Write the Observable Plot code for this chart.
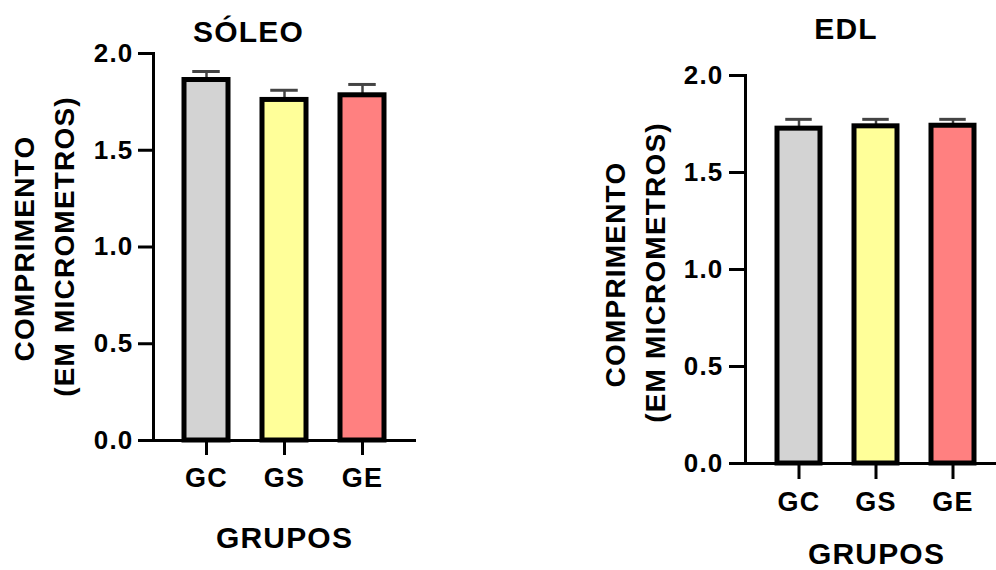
<!DOCTYPE html>
<html><head><meta charset="utf-8">
<script src="https://cdn.jsdelivr.net/npm/d3@7"></script>
<script src="https://cdn.jsdelivr.net/npm/@observablehq/plot@0.6"></script>
<style>
html,body{margin:0;padding:0;background:#fff;}
#wrap{position:relative;width:996px;height:570px;overflow:hidden;background:#fff;}
#wrap svg{position:absolute;top:0;}
svg text{letter-spacing:1.2px;}
</style></head><body><div id="wrap"></div>
<script>
const groups = ["GC", "GS", "GE"];
const barColors = ["#d3d3d3", "#ffff99", "#ff8080"];
const soleoMean = [1.863, 1.760, 1.784];
const soleoSem = [0.044, 0.050, 0.056];
const edlMean = [1.726, 1.738, 1.741];
const edlSem = [0.048, 0.036, 0.033];
const yTicks = [0, 0.5, 1.0, 1.5, 2.0];
const titles = ["SÓLEO", "EDL"];
const yLabel1 = "COMPRIMENTO";
const yLabel2 = "(EM MICROMETROS)";
const xLabel = "GRUPOS";

function chart(cfg) {
  const data = groups.map((g, i) => ({group: g, mean: cfg.mean[i], top: cfg.mean[i] + cfg.sem[i]}));
  const font = {fontWeight: "bold", fill: "#000"};
  const svg = Plot.plot({
    width: cfg.width, height: 570,
    marginLeft: cfg.ml, marginTop: cfg.mt, marginBottom: cfg.mb, marginRight: cfg.mr,
    style: {fontFamily: "'Liberation Sans', Arial, sans-serif", color: "#000", background: "transparent", overflow: "visible"},
    x: {domain: groups, range: cfg.xRange, paddingInner: 0.442, paddingOuter: 0.221},
    y: {domain: [0, 2]},
    color: {domain: groups, range: barColors},
    marks: [
      Plot.ruleX(data, {x: "group", y1: "mean", y2: "top", stroke: "#444", strokeWidth: 2.5}),
      Plot.tickY(data, {x: "group", y: "top", stroke: "#444", strokeWidth: 3, inset: 8.25}),
      Plot.barY(data, {x: "group", y: "mean", fill: "group", stroke: "#000", strokeWidth: 5}),
      Plot.ruleY([0], {stroke: "#000", strokeWidth: 3, insetLeft: -15}),
      Plot.frame({anchor: "left", stroke: "#000", strokeWidth: 3}),
      Plot.axisY({ticks: yTicks, tickFormat: d3.format(".1f"), tickSize: cfg.ytick, tickPadding: cfg.ypad, strokeWidth: 3, fontSize: 26, fontWeight: "bold", label: null}),
      Plot.axisX({tickSize: cfg.xtick, tickPadding: 12, strokeWidth: 3, fontSize: 27, fontWeight: "bold", label: null}),
      Plot.text([cfg.title], {frameAnchor: "top-left", dx: cfg.title_dx, dy: cfg.title_dy, textAnchor: "middle", lineAnchor: "bottom", fontSize: 30, ...font}),
      Plot.text([yLabel1], {frameAnchor: "top-left", dx: cfg.yl1[0], dy: cfg.yl1[1], rotate: -90, textAnchor: "middle", lineAnchor: "middle", fontSize: 28, ...font}),
      Plot.text([yLabel2], {frameAnchor: "top-left", dx: cfg.yl2[0], dy: cfg.yl2[1], rotate: -90, textAnchor: "middle", lineAnchor: "middle", fontSize: 28, ...font}),
      Plot.text([xLabel], {frameAnchor: "top-left", dx: cfg.xl[0], dy: cfg.xl[1], textAnchor: "middle", lineAnchor: "bottom", fontSize: 30, ...font})
    ]
  });
  svg.style.left = cfg.left + "px";
  return svg;
}

const wrap = document.getElementById("wrap");
wrap.appendChild(chart({
  left: 0, width: 490, ml: 153, mt: 53, mb: 130, mr: 74, xRange: [167, 401],
  mean: soleoMean, sem: soleoSem, ytick: 15, ypad: 5, xtick: 15,
  title: titles[0], title_dx: 95, title_dy: -12,
  yl1: [-128, 195], yl2: [-88, 193], xl: [131, 494]
}));
wrap.appendChild(chart({
  left: 490, width: 506, ml: 255, mt: 75, mb: 107, mr: 0, xRange: [269, 502],
  mean: edlMean, sem: edlSem, ytick: 16, ypad: 6, xtick: 16,
  title: titles[1], title_dx: 100.5, title_dy: -37,
  yl1: [-129, 199], yl2: [-89, 197], xl: [131, 488]
}));
</script></body></html>
